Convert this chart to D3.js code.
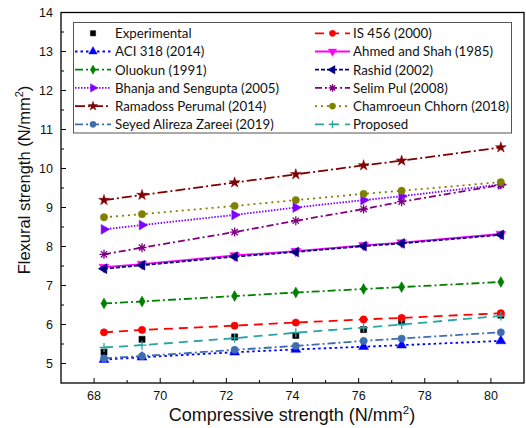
<!DOCTYPE html>
<html><head><meta charset="utf-8">
<script src="https://cdn.jsdelivr.net/npm/d3@7"></script>
<style>body{margin:0;background:#fff}svg{display:block}</style>
</head><body>
<svg id="c" width="526" height="428"></svg>
<script>
const compressive = [68.3, 69.45, 72.25, 74.1, 76.15, 77.3, 80.3];
const experimental = [5.29, 5.62, 5.68, 5.72, 5.87, 6.07, 6.24];
const is456 = [5.80, 5.86, 5.97, 6.05, 6.13, 6.17, 6.29];
const aci318 = [5.10, 5.16, 5.29, 5.36, 5.43, 5.47, 5.58];
const ahmedShah = [7.47, 7.55, 7.77, 7.88, 8.03, 8.10, 8.32];
const oluokun = [6.54, 6.59, 6.73, 6.82, 6.91, 6.96, 7.09];
const rashid = [7.43, 7.52, 7.74, 7.86, 8.01, 8.08, 8.30];
const bhanja = [8.44, 8.55, 8.81, 9.00, 9.19, 9.29, 9.59];
const selimPul = [7.80, 7.97, 8.37, 8.66, 8.96, 9.15, 9.58];
const ramadoss = [9.19, 9.32, 9.64, 9.85, 10.08, 10.20, 10.54];
const chamroeun = [8.75, 8.83, 9.04, 9.19, 9.35, 9.43, 9.65];
const seyed = [5.13, 5.19, 5.35, 5.45, 5.58, 5.64, 5.80];
const proposed = [5.41, 5.47, 5.65, 5.79, 5.92, 6.00, 6.22];
const xTicks = [68, 70, 72, 74, 76, 78, 80];
const yTicks = [5, 6, 7, 8, 9, 10, 11, 12, 13, 14];

const series = [
  {name:"Experimental", values:experimental, color:"#000000", dash:null, line:false, marker:"square"},
  {name:"IS 456 (2000)", values:is456, color:"#FF0000", dash:"9,6", line:true, marker:"circle"},
  {name:"ACI 318 (2014)", values:aci318, color:"#0000FF", dash:"2.5,3", line:true, marker:"triUp"},
  {name:"Ahmed and Shah (1985)", values:ahmedShah, color:"#FF00FF", dash:null, line:true, marker:"triDown"},
  {name:"Oluokun (1991)", values:oluokun, color:"#008000", dash:"8,3,2,3", line:true, marker:"diamond"},
  {name:"Rashid (2002)", values:rashid, color:"#000080", dash:"4,2", line:true, marker:"triLeft"},
  {name:"Bhanja and Sengupta (2005)", values:bhanja, color:"#8000FF", dash:"1.5,1.5", line:true, marker:"triRight"},
  {name:"Selim Pul (2008)", values:selimPul, color:"#800080", dash:"7,3,2,3", line:true, marker:"asterisk"},
  {name:"Ramadoss Perumal (2014)", values:ramadoss, color:"#800000", dash:"10,3,2,3", line:true, marker:"star"},
  {name:"Chamroeun Chhorn (2018)", values:chamroeun, color:"#808000", dash:"2,4", line:true, marker:"circle"},
  {name:"Seyed Alireza Zareei (2019)", values:seyed, color:"#3F6EB0", dash:"8,3,2,3", line:true, marker:"circle"},
  {name:"Proposed", values:proposed, color:"#2AA3A3", dash:"9,6", line:true, marker:"plus"}
];

const svg = d3.select("#c");
const L = 61, R = 524, T = 12.5, B = 383;
const x = d3.scaleLinear().domain([67, 81]).range([L, R]);
const y = d3.scaleLinear().domain([4.5, 14]).range([B, T]);

function drawMarker(g, type, color, k) {
  if (type === "asterisk") {
    const s = 4.5 * k;
    g.append("path").attr("d", `M0,${-s}L0,${s}M${-s},0L${s},0M${-s*0.7},${-s*0.7}L${s*0.7},${s*0.7}M${-s*0.7},${s*0.7}L${s*0.7},${-s*0.7}`)
      .attr("stroke", color).attr("stroke-width", 1.3).attr("fill", "none");
    return;
  }
  if (type === "plus") {
    const s = 4.5 * k;
    g.append("path").attr("d", `M0,${-s}L0,${s}M${-s},0L${s},0`)
      .attr("stroke", color).attr("stroke-width", 1.3).attr("fill", "none");
    return;
  }
  let sym, size, rot = 0;
  switch (type) {
    case "square": sym = d3.symbolSquare; size = 38; break;
    case "circle": sym = d3.symbolCircle; size = 42; break;
    case "diamond": sym = d3.symbolDiamond; size = 34; break;
    case "star": sym = d3.symbolStar; size = 36; break;
    case "triUp": sym = d3.symbolTriangle; size = 42; break;
    case "triDown": sym = d3.symbolTriangle; size = 42; rot = 180; break;
    case "triLeft": sym = d3.symbolTriangle; size = 42; rot = -90; break;
    case "triRight": sym = d3.symbolTriangle; size = 42; rot = 90; break;
  }
  g.append("path").attr("d", d3.symbol().type(sym).size(size * k * k)()).attr("transform", `rotate(${rot})`)
    .attr("fill", color).attr("stroke", color).attr("stroke-width", 0.5);
}

// frame
svg.append("rect").attr("x", L).attr("y", T).attr("width", R - L).attr("height", B - T)
  .attr("fill", "none").attr("stroke", "#000").attr("stroke-width", 1.3);

// ticks (inward)
const ax = svg.append("g").attr("stroke", "#000").attr("stroke-width", 1);
xTicks.forEach(v => ax.append("line").attr("x1", x(v)).attr("x2", x(v)).attr("y1", B).attr("y2", B - 5));
d3.range(69, 81, 2).forEach(v => ax.append("line").attr("x1", x(v)).attr("x2", x(v)).attr("y1", B).attr("y2", B - 3));
yTicks.forEach(v => ax.append("line").attr("y1", y(v)).attr("y2", y(v)).attr("x1", L).attr("x2", L + 5));
d3.range(5.5, 14, 1).forEach(v => ax.append("line").attr("y1", y(v)).attr("y2", y(v)).attr("x1", L).attr("x2", L + 3));

const tf = "'Liberation Sans', Arial, sans-serif";
svg.append("g").selectAll("text").data(xTicks).join("text")
  .attr("x", d => x(d)).attr("y", 400).attr("text-anchor", "middle")
  .attr("font-family", tf).attr("font-size", 12.5).attr("fill", "#111").text(d => d);
svg.append("g").selectAll("text").data(yTicks).join("text")
  .attr("x", 53).attr("y", d => y(d) + 4.5).attr("text-anchor", "end")
  .attr("font-family", tf).attr("font-size", 12.5).attr("fill", "#111").text(d => d);

// axis titles
const xt = svg.append("text").attr("x", 292).attr("y", 421).attr("text-anchor", "middle")
  .attr("font-family", tf).attr("font-size", 18).attr("fill", "#111");
xt.append("tspan").text("Compressive strength (N/mm");
xt.append("tspan").attr("font-size", 11.5).attr("dy", -7).text("2");
xt.append("tspan").attr("dy", 7).text(")");

const yt = svg.append("text").attr("transform", "translate(30,180) rotate(-90)").attr("text-anchor", "middle")
  .attr("font-family", tf).attr("font-size", 16.5).attr("fill", "#111");
yt.append("tspan").text("Flexural strength (N/mm");
yt.append("tspan").attr("font-size", 11).attr("dy", -7).text("2");
yt.append("tspan").attr("dy", 7).text(")");

// series
const lineGen = d3.line().x((d, i) => x(compressive[i])).y(d => y(d));
series.forEach(s => {
  if (s.line) {
    svg.append("path").datum(s.values).attr("d", lineGen).attr("fill", "none")
      .attr("stroke", s.color).attr("stroke-width", 1.8)
      .attr("stroke-dasharray", s.dash);
  }
  s.values.forEach((v, i) => {
    const g = svg.append("g").attr("transform", `translate(${x(compressive[i])},${y(v)})`);
    drawMarker(g, s.marker, s.color, 1);
  });
});

// legend
svg.append("rect").attr("x", 73.5).attr("y", 22.5).attr("width", 438).attr("height", 110.5)
  .attr("fill", "#fff").attr("stroke", "#555").attr("stroke-width", 1);
series.forEach((s, i) => {
  const col = i % 2, row = Math.floor(i / 2);
  const ly = 33.3 + row * 18.2;
  const x0 = col === 0 ? 75 : 315, x1 = col === 0 ? 111 : 350;
  const mx = (x0 + x1) / 2;
  if (s.line) {
    svg.append("line").attr("x1", x0).attr("x2", x1).attr("y1", ly).attr("y2", ly)
      .attr("stroke", s.color).attr("stroke-width", 1.8).attr("stroke-dasharray", s.dash);
  }
  drawMarker(svg.append("g").attr("transform", `translate(${mx},${ly})`), s.marker, s.color, 0.85);
  svg.append("text").attr("x", col === 0 ? 115 : 353).attr("y", ly + 4.8)
    .attr("font-family", "Lato, 'Open Sans', sans-serif").attr("font-size", 13.3).attr("fill", "#111")
    .text(s.name);
});
</script>
</body></html>
